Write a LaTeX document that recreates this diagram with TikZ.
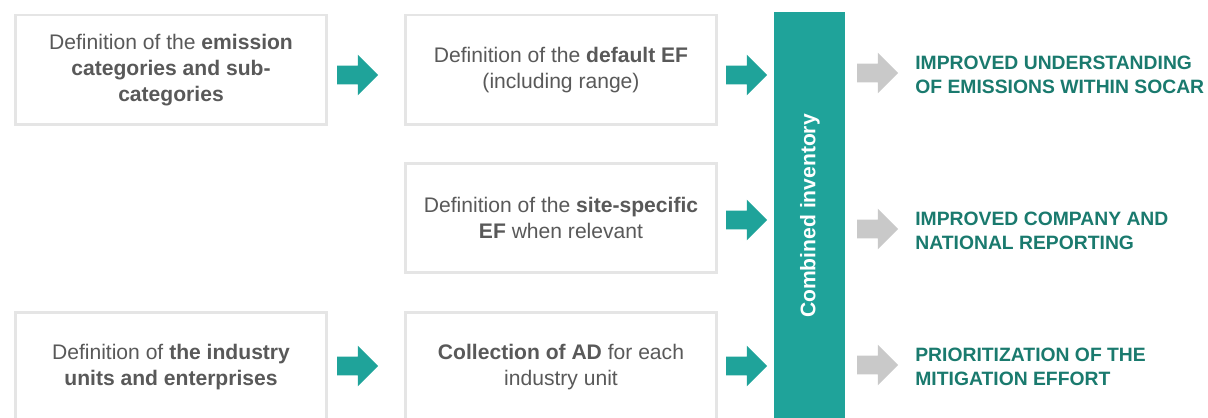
\documentclass[tikz,border=0pt]{standalone}
\usepackage{fontspec}
\setmainfont{Liberation Sans}
\usetikzlibrary{calc}
\usetikzlibrary{shapes.arrows}
\definecolor{teal1}{HTML}{1FA39A}
\definecolor{teal2}{HTML}{1A7A6E}
\definecolor{txtgray}{HTML}{595959}
\definecolor{boxgray}{HTML}{E5E5E5}
\definecolor{arrgray}{HTML}{C9C9C9}
\tikzset{
 stepbox/.style={draw=boxgray, line width=1.7pt, fill=white, minimum width=62.4mm, minimum height=22mm, align=center, text=txtgray, font=\fontsize{12}{14.6}\selectfont, inner sep=0},
 fatarrow/.style={single arrow, fill=#1, draw=none, minimum width=8mm, minimum height=8.2mm, single arrow head extend=2.2mm, inner xsep=0, inner ysep=1.8mm},
 outcome/.style={anchor=west, align=left, text=teal2, font=\fontsize{11}{13.7}\selectfont\bfseries, inner sep=0}
}

\begin{document}
\begin{tikzpicture} [x=0.02cm, y=-0.02cm]
\useasboundingbox (0,0) rectangle (1208,418);
% boxes
\node[stepbox] (cat) at (171,70) {Definition of the \textbf{emission}\\\textbf{categories and sub-}\\\textbf{categories}};
\node[stepbox] (def) at (561,70) {Definition of the \textbf{default EF}\\(including range)};
\node[stepbox] (site) at (561,218) {Definition of the \textbf{site-specific}\\\textbf{EF} when relevant};
\node[stepbox] (unit) at (171,367) {Definition of \textbf{the industry}\\\textbf{units and enterprises}};
\node[stepbox] (ad) at (561,367) {\textbf{Collection of AD} for each\\industry unit};
% combined inventory bar
\fill[teal1] (774,12) rectangle (845,430);
\node[rotate=90, text=white, font=\fontsize{12}{14}\selectfont\bfseries, inner sep=0] (inv) at (810,216) {Combined inventory};
% teal arrows
\node[fatarrow=teal1] (a1) at (353,75) {};
\node[fatarrow=teal1] (a2) at (742,75) {};
\node[fatarrow=teal1] (a3) at (742,220) {};
\node[fatarrow=teal1] (a4) at (353,366) {};
\node[fatarrow=teal1] (a5) at (742,366) {};
% outcomes
\foreach \y/\name/\txt in {75/o1/{IMPROVED UNDERSTANDING\\OF EMISSIONS WITHIN SOCAR}, 231/o2/{IMPROVED COMPANY AND\\NATIONAL REPORTING}, 367/o3/{PRIORITIZATION OF THE\\MITIGATION EFFORT}} {
 \node[fatarrow=arrgray] (g\name) at (873,\y-2) {};
 \node[outcome] (\name) at (915,\y) {\txt};
}
\end{tikzpicture}
\end{document}
